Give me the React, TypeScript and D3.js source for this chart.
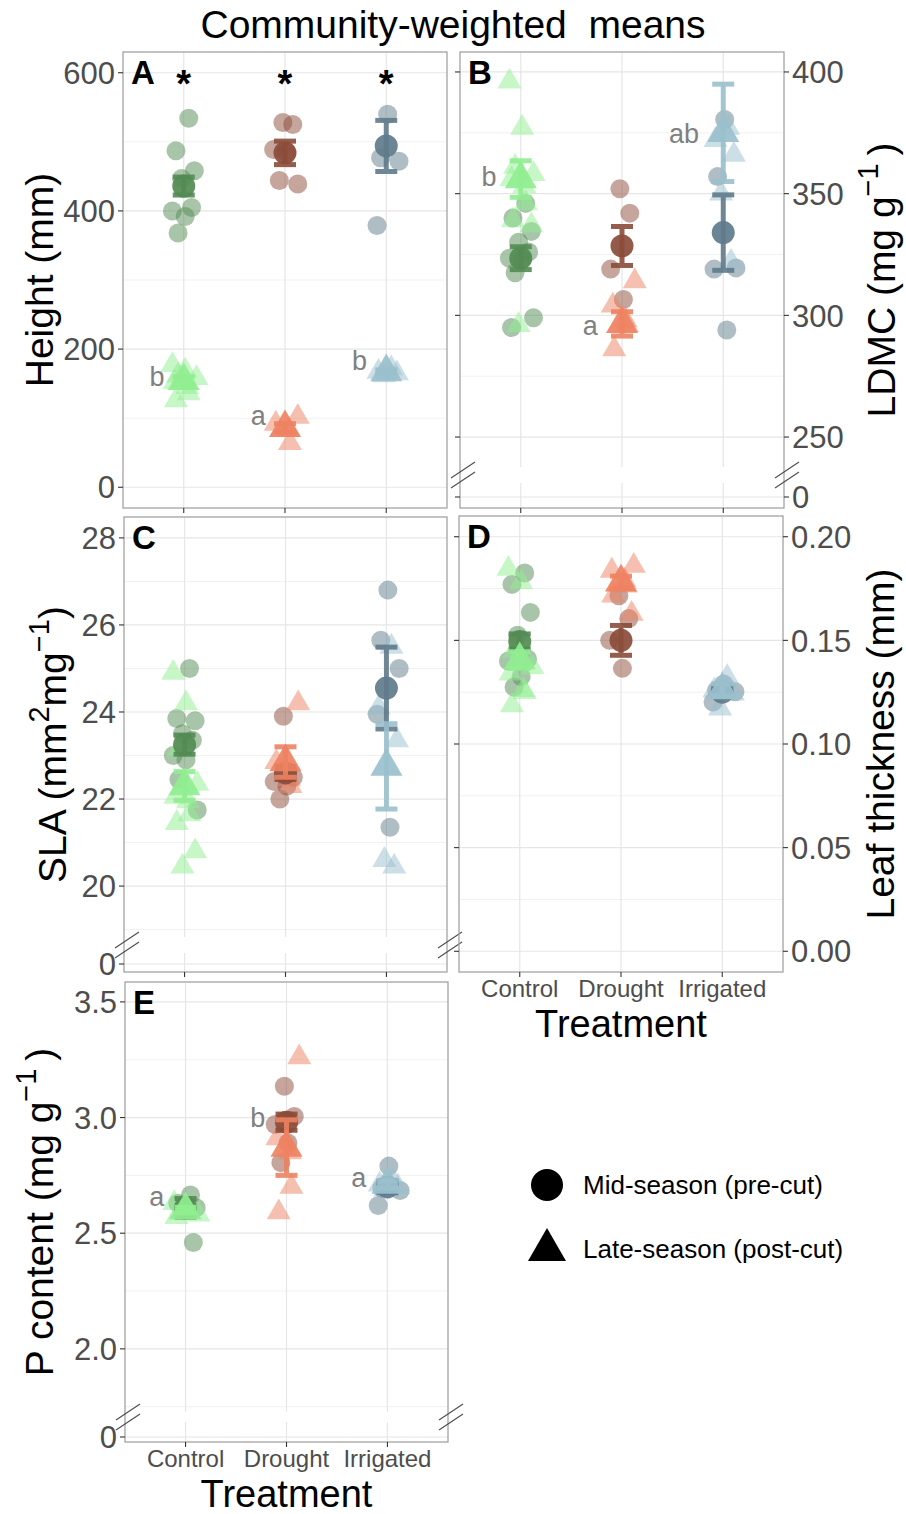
import React, { useEffect, useRef } from 'react';
import * as d3 from 'd3';

const treatments = ['Control', 'Drought', 'Irrigated'];
const midColors = ['#548B54', '#8B4C39', '#607B8B'];
const lateColors = ['#90EE90', '#EE8262', '#9AC0CD'];

// A: height (mm)
const heightTicks = [0, 200, 400, 600];
const heightMid = [
  [534, 487, 458, 447, 405, 400, 392, 368],
  [528, 525, 489, 484, 444, 439],
  [540, 477, 472, 379],
];
const heightLate = [
  [177, 169, 162, 158, 152, 145, 136, 126],
  [102, 92, 83, 64],
  [172, 167, 165, 162],
];
const heightMidMean = [436, 484, 494];
const heightMidSE = [13, 17, 37];
const heightLateMean = [154, 86, 167];
const heightLateSE = [6, 6, 3];
const heightLetters = ['b', 'a', 'b'];
const heightLetterY = [160, 104, 184];

// B: LDMC (mg g-1)
const ldmcTicks = [250, 300, 350, 400];
const ldmcMid = [
  [346, 340, 334.5, 330, 326, 323.5, 323, 317.5, 299, 295],
  [352, 342, 319, 306.5],
  [380.5, 357, 319.5, 319, 294],
];
const ldmcLate = [
  [396, 377, 361, 358, 356, 353, 346, 339, 337, 296],
  [314, 304, 298, 296, 286],
  [377, 372, 366, 350, 322],
];
const ldmcMidMean = [323.5, 328.5, 334];
const ldmcMidSE = [4.7, 8, 15.5];
const ldmcLateMean = [356, 296.5, 375];
const ldmcLateSE = [7.5, 5, 20];
const ldmcLetters = ['b', 'a', 'ab'];
const ldmcLetterY = [357, 296, 375];

// C: SLA
const slaTicks = [20, 22, 24, 26, 28];
const slaMid = [
  [25.0, 23.85, 23.8, 23.5, 23.35, 23.0, 22.9, 22.45, 21.75],
  [23.9, 22.5, 22.4, 22.3, 22.0],
  [26.8, 25.65, 25.0, 23.95, 21.35],
];
const slaLate = [
  [24.9, 24.2, 23.15, 22.35, 22.05, 21.95, 21.65, 21.45, 20.8, 20.45],
  [24.2, 22.85, 22.45, 22.3],
  [25.5, 24.1, 23.35, 20.6, 20.45],
];
const slaMidMean = [23.25, 22.6, 24.55];
const slaMidSE = [0.22, 0.15, 0.94];
const slaLateMean = [22.3, 22.85, 22.75];
const slaLateSE = [0.33, 0.35, 0.98];

// D: leaf thickness (mm)
const thickTicks = [0, 0.05, 0.1, 0.15, 0.2];
const thickMid = [
  [0.1825, 0.177, 0.1635, 0.1525, 0.141, 0.14, 0.1325, 0.1275],
  [0.1715, 0.1605, 0.15, 0.1365],
  [0.129, 0.1258, 0.1252, 0.1203],
];
const thickLate = [
  [0.1845, 0.178, 0.145, 0.137, 0.134, 0.126, 0.125, 0.1187],
  [0.186, 0.1836, 0.1788, 0.1764, 0.1716, 0.1628],
  [0.1323, 0.1259, 0.1243, 0.1171],
];
const thickMidMean = [0.1495, 0.15, 0.125];
const thickMidSE = [0.0036, 0.0072, 0.002];
const thickLateMean = [0.1405, 0.178, 0.126];
const thickLateSE = [0.004, 0.003, 0.003];

// E: P content (mg g-1)
const pTicks = [2.0, 2.5, 3.0, 3.5];
const pMid = [
  [2.665, 2.63, 2.61, 2.6, 2.46],
  [3.135, 3.005, 2.97, 2.89, 2.805],
  [2.79, 2.695, 2.685, 2.62],
];
const pLate = [
  [2.63, 2.61, 2.59, 2.58, 2.57],
  [3.26, 2.91, 2.85, 2.7, 2.59],
  [2.73, 2.71, 2.7, 2.69],
];
const pMidMean = [2.61, 2.98, 2.7];
const pMidSE = [0.04, 0.035, 0.025];
const pLateMean = [2.6, 2.87, 2.71];
const pLateSE = [0.012, 0.12, 0.015];
const pLetters = ['a', 'b', 'a'];
const pLetterY = [2.66, 3.0, 2.74];

const legendLabels = ['Mid-season (pre-cut)', 'Late-season (post-cut)'];

// fixed jitter pattern (fraction of half-width)
const jitterPattern = [0.35, -0.55, 0.75, -0.15, 0.55, -0.8, 0.1, -0.4, 0.9, -0.65, 0.25];

const FONT = '"Liberation Sans", Arial, Helvetica, sans-serif';

const panels = [
  {
    tag: 'A', mid: heightMid, late: heightLate, midMean: heightMidMean, midSE: heightMidSE,
    lateMean: heightLateMean, lateSE: heightLateSE, letters: heightLetters, letterY: heightLetterY,
    ticks: heightTicks, domain: [-30, 630], fmt: (d) => String(d),
    x0: 123, x1: 447, y0: 52, y1: 508, side: 'left', brk: null, stars: true, xlab: false,
    title: [{ t: 'Height (mm)' }], titleX: 53, letterOff: 0.19,
  },
  {
    tag: 'B', mid: ldmcMid, late: ldmcLate, midMean: ldmcMidMean, midSE: ldmcMidSE,
    lateMean: ldmcLateMean, lateSE: ldmcLateSE, letters: ldmcLetters, letterY: ldmcLetterY,
    ticks: ldmcTicks, domain: [237.7, 408.2], fmt: (d) => String(d),
    x0: 460, x1: 784, y0: 52, y1: 508, side: 'right', brk: { lowerH: 25, gapH: 16, zeroOff: 11 }, stars: false, xlab: false,
    title: [{ t: 'LDMC (mg g' }, { t: '\u22121', sup: true }, { t: '\u2009)' }], titleX: 895, letterOff: 0.24,
  },
  {
    tag: 'C', mid: slaMid, late: slaLate, midMean: slaMidMean, midSE: slaMidSE,
    lateMean: slaLateMean, lateSE: slaLateSE, letters: null, letterY: null,
    ticks: slaTicks, domain: [18.83, 28.48], fmt: (d) => String(d),
    x0: 124, x1: 447, y0: 517, y1: 972, side: 'left', brk: { lowerH: 19, gapH: 16, zeroOff: 8 }, stars: false, xlab: false,
    title: [{ t: 'SLA (mm' }, { t: '2', sup: true }, { t: 'mg' }, { t: '\u22121', sup: true }, { t: ')' }], titleX: 66, letterOff: 0.19,
  },
  {
    tag: 'D', mid: thickMid, late: thickLate, midMean: thickMidMean, midSE: thickMidSE,
    lateMean: thickLateMean, lateSE: thickLateSE, letters: null, letterY: null,
    ticks: thickTicks, domain: [-0.01, 0.21], fmt: d3.format('.2f'),
    x0: 459, x1: 783, y0: 516, y1: 972, side: 'right', brk: null, stars: false, xlab: true,
    title: [{ t: 'Leaf thickness (mm)' }], titleX: 894, letterOff: 0.19,
  },
  {
    tag: 'E', mid: pMid, late: pLate, midMean: pMidMean, midSE: pMidSE,
    lateMean: pLateMean, lateSE: pLateSE, letters: pLetters, letterY: pLetterY,
    ticks: pTicks, domain: [1.727, 3.586], fmt: d3.format('.1f'),
    x0: 125, x1: 448, y0: 982, y1: 1442, side: 'left', brk: { lowerH: 20, gapH: 10, zeroOff: 5 }, stars: false, xlab: true,
    title: [{ t: 'P content (mg g' }, { t: '\u22121', sup: true }, { t: '\u2009)' }], titleX: 53, letterOff: 0.21,
  },
];

const triangle = (side) => d3.symbol().type(d3.symbolTriangle).size((Math.sqrt(3) / 4) * side * side)();

const drawPanel = (svg, p) => {
  const g = svg.append('g');
  const x = d3.scalePoint().domain(treatments).range([p.x0, p.x1]).padding(0.6);
  const step = x.step();
  const brk = p.brk;
  const mainBottom = brk ? p.y1 - brk.lowerH - brk.gapH : p.y1;
  const y = d3.scaleLinear().domain(p.domain).range([mainBottom, p.y0]);
  const zeroY = brk ? p.y1 - brk.zeroOff : y(0);
  const yPos = (v) => (brk && v < p.domain[0] ? zeroY : y(v));

  // minor grid between major ticks
  const tStep = p.ticks[1] - p.ticks[0];
  const minors = d3.range(p.ticks[0] - tStep / 2, p.ticks[p.ticks.length - 1] + tStep, tStep)
    .filter((v) => v > p.domain[0] && v < p.domain[1]);
  minors.forEach((v) => {
    g.append('line').attr('x1', p.x0).attr('x2', p.x1).attr('y1', y(v)).attr('y2', y(v))
      .attr('stroke', '#f1f1f1').attr('stroke-width', 1);
  });
  const majors = brk ? [0, ...p.ticks] : p.ticks;
  majors.forEach((v) => {
    g.append('line').attr('x1', p.x0).attr('x2', p.x1).attr('y1', yPos(v)).attr('y2', yPos(v))
      .attr('stroke', '#e6e6e6').attr('stroke-width', 1.2);
  });
  treatments.forEach((t) => {
    g.append('line').attr('x1', x(t)).attr('x2', x(t)).attr('y1', p.y0).attr('y2', mainBottom)
      .attr('stroke', '#e6e6e6').attr('stroke-width', 1.2);
    if (brk) {
      g.append('line').attr('x1', x(t)).attr('x2', x(t)).attr('y1', mainBottom + brk.gapH).attr('y2', p.y1)
        .attr('stroke', '#e6e6e6').attr('stroke-width', 1.2);
    }
  });

  // individual points
  const jit = (i, j, off) => jitterPattern[(j + i * 3 + off) % jitterPattern.length] * 0.14 * step;
  p.mid.forEach((vals, i) => {
    vals.forEach((v, j) => {
      g.append('circle').attr('cx', x(treatments[i]) + jit(i, j, 0)).attr('cy', yPos(v)).attr('r', 9.5)
        .attr('fill', midColors[i]).attr('fill-opacity', 0.5);
    });
  });
  p.late.forEach((vals, i) => {
    vals.forEach((v, j) => {
      g.append('path').attr('d', triangle(24))
        .attr('transform', `translate(${x(treatments[i]) + jit(i, j, 5)},${yPos(v)})`)
        .attr('fill', lateColors[i]).attr('fill-opacity', 0.5);
    });
  });

  // means with error bars
  const drawMean = (means, ses, colors, shape) => {
    means.forEach((m, i) => {
      const cx = x(treatments[i]);
      const col = colors[i];
      const eb = g.append('g').attr('stroke', col).attr('stroke-width', 5).attr('opacity', 0.9);
      eb.append('line').attr('x1', cx).attr('x2', cx).attr('y1', y(m - ses[i])).attr('y2', y(m + ses[i]));
      [m - ses[i], m + ses[i]].forEach((v) => {
        eb.append('line').attr('x1', cx - 11).attr('x2', cx + 11).attr('y1', y(v)).attr('y2', y(v));
      });
      if (shape === 'circle') {
        g.append('circle').attr('cx', cx).attr('cy', y(m)).attr('r', 11.5).attr('fill', col).attr('fill-opacity', 0.92);
      } else {
        g.append('path').attr('d', triangle(32)).attr('transform', `translate(${cx},${y(m)})`)
          .attr('fill', col).attr('fill-opacity', 0.92);
      }
    });
  };
  drawMean(p.midMean, p.midSE, midColors, 'circle');
  drawMean(p.lateMean, p.lateSE, lateColors, 'triangle');

  // border
  g.append('rect').attr('x', p.x0).attr('y', p.y0).attr('width', p.x1 - p.x0).attr('height', p.y1 - p.y0)
    .attr('fill', 'none').attr('stroke', '#a3a3a3').attr('stroke-width', 1.3);

  // break marks
  if (brk) {
    const cy = mainBottom + brk.gapH / 2;
    [p.x0 + 3, p.x1 + 3].forEach((bx) => {
      [-5, 5].forEach((d) => {
        g.append('line').attr('x1', bx - 12).attr('y1', cy + d + 8).attr('x2', bx + 12).attr('y2', cy + d - 8)
          .attr('stroke', '#4d4d4d').attr('stroke-width', 1.2);
      });
    });
  }

  // y axis ticks and labels
  const tickCol = '#333333';
  const labelCol = '#4D4D4D';
  const labelled = p.side === 'left' ? p.x0 : p.x1;
  const dir = p.side === 'left' ? -1 : 1;
  majors.forEach((v) => {
    g.append('line').attr('x1', labelled).attr('x2', labelled + dir * 5).attr('y1', yPos(v)).attr('y2', yPos(v))
      .attr('stroke', tickCol).attr('stroke-width', 1.1);
    g.append('text').attr('x', labelled + dir * 8).attr('y', yPos(v)).attr('dy', '0.36em')
      .attr('text-anchor', p.side === 'left' ? 'end' : 'start')
      .attr('font-size', 31).attr('fill', labelCol).text(brk && v === 0 ? '0' : p.fmt(v));
    if (p.side === 'right') {
      g.append('line').attr('x1', p.x0).attr('x2', p.x0 - 5).attr('y1', yPos(v)).attr('y2', yPos(v))
        .attr('stroke', tickCol).attr('stroke-width', 1.1);
    }
  });

  // x ticks
  treatments.forEach((t) => {
    g.append('line').attr('x1', x(t)).attr('x2', x(t)).attr('y1', p.y1).attr('y2', p.y1 + 5)
      .attr('stroke', tickCol).attr('stroke-width', 1.1);
    if (p.xlab) {
      g.append('text').attr('x', x(t)).attr('y', p.y1 + 16).attr('dy', '0.36em').attr('text-anchor', 'middle')
        .attr('font-size', 24).attr('fill', labelCol).text(t);
    }
  });
  if (p.xlab) {
    g.append('text').attr('x', (p.x0 + p.x1) / 2).attr('y', p.y1 + 65).attr('text-anchor', 'middle')
      .attr('font-size', 38).attr('fill', '#000').text('Treatment');
  }

  // y title (rotated)
  const tt = g.append('text')
    .attr('transform', `translate(${p.titleX},${(p.y0 + p.y1) / 2}) rotate(-90)`)
    .attr('text-anchor', 'middle').attr('font-size', 39).attr('fill', '#000');
  let raised = false;
  p.title.forEach((s) => {
    const ts = tt.append('tspan').text(s.t);
    if (s.sup && !raised) { ts.attr('dy', -17).attr('font-size', 29); raised = true; }
    else if (!s.sup && raised) { ts.attr('dy', 17); raised = false; }
  });

  // panel tag
  g.append('text').attr('x', p.x0 + 8).attr('y', p.y0 + 32).attr('font-size', 33).attr('font-weight', 'bold')
    .attr('fill', '#000').text(p.tag);

  // significance letters
  if (p.letters) {
    p.letters.forEach((l, i) => {
      g.append('text').attr('x', x(treatments[i]) - p.letterOff * step).attr('y', yPos(p.letterY[i])).attr('dy', '0.36em')
        .attr('text-anchor', 'end').attr('font-size', 27).attr('fill', '#808080').text(l);
    });
  }
  if (p.stars) {
    treatments.forEach((t) => {
      g.append('text').attr('x', x(t)).attr('y', p.y0 + 45).attr('text-anchor', 'middle')
        .attr('font-size', 38).attr('font-weight', 'bold').attr('fill', '#000').text('*');
    });
  }
};

const App = () => {
  const ref = useRef(null);

  useEffect(() => {
    const svg = d3.select(ref.current);
    svg.selectAll('*').remove();
    svg.append('rect').attr('width', 906).attr('height', 1514).attr('fill', '#fff');

    svg.append('text').attr('x', 453).attr('y', 38).attr('text-anchor', 'middle')
      .attr('font-size', 39).attr('fill', '#000').text('Community-weighted  means')
      .style('white-space', 'pre');

    panels.forEach((p) => drawPanel(svg, p));

    // legend
    const lg = svg.append('g');
    lg.append('circle').attr('cx', 547).attr('cy', 1185).attr('r', 16).attr('fill', '#000');
    lg.append('path').attr('d', triangle(38)).attr('transform', 'translate(547,1250)').attr('fill', '#000');
    legendLabels.forEach((l, i) => {
      lg.append('text').attr('x', 583).attr('y', 1185 + i * 64).attr('dy', '0.36em')
        .attr('font-size', 26).attr('fill', '#000').text(l);
    });
  }, []);

  return (
    <svg ref={ref} width={906} height={1514}
      style={{ position: 'absolute', left: 0, top: 0, fontFamily: FONT }} />
  );
};

export default App;
